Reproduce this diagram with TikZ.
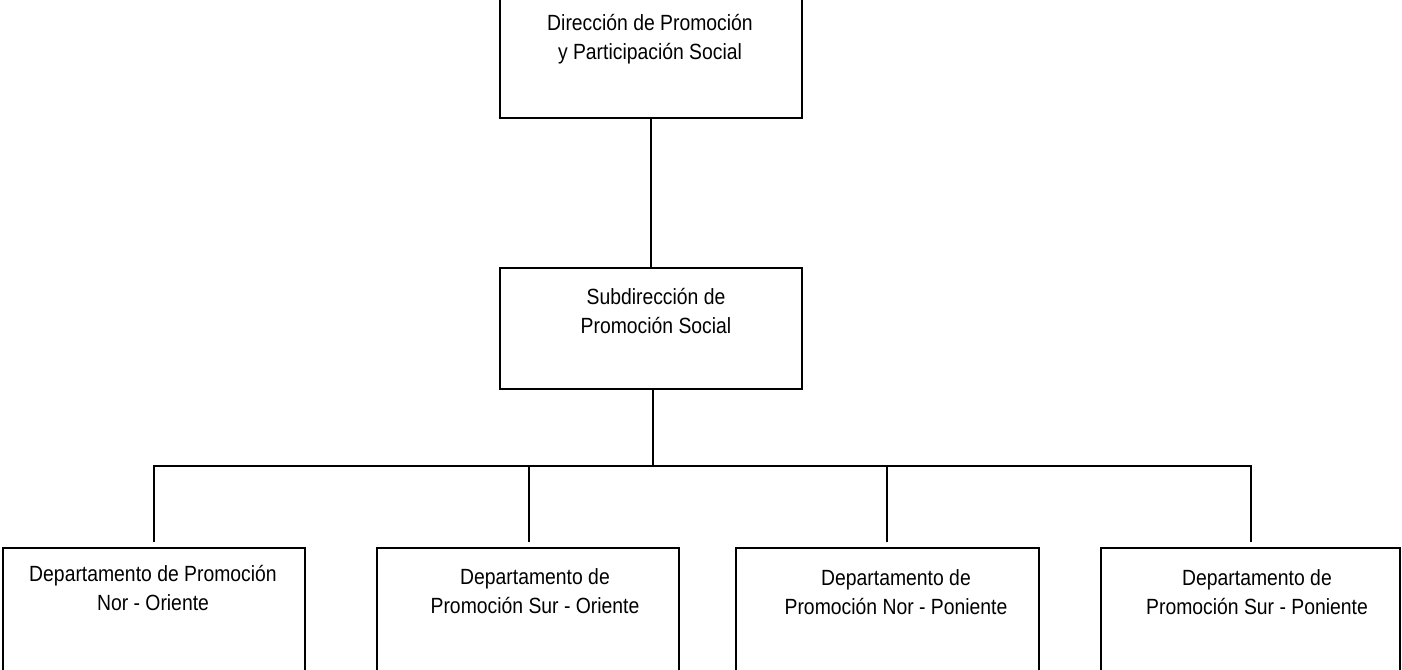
\documentclass[tikz,border=0pt]{standalone}
\usepackage{fontspec}
\setmainfont{Liberation Sans}[FakeStretch=0.88]
\begin{document}
\begin{tikzpicture}[x=1pt,y=-1pt,
  box/.style={draw=black,line width=2pt,inner sep=0pt,outer sep=0pt,minimum height=121pt},
  txt/.style={align=center,inner sep=0pt,font=\fontsize{22}{29}\selectfont},
  conn/.style={draw=black,line width=2pt}]
\useasboundingbox (0,0) rectangle (1402,669);
% boxes
\node[box,minimum width=302pt] (dir) at (651,57.5) {};
\node[box,minimum width=302pt] (sub) at (651,328.5) {};
\node[box,minimum width=302pt,minimum height=124pt] (d1) at (154,610) {};
\node[box,minimum width=302pt,minimum height=124pt] (d2) at (528,610) {};
\node[box,minimum width=303pt,minimum height=124pt] (d3) at (887.5,610) {};
\node[box,minimum width=299pt,minimum height=124pt] (d4) at (1250.5,610) {};
% texts
\node[txt] (tdir) at (650,39) {Dirección de Promoción\\y Participación Social};
\node[txt] (tsub) at (656,311) {Subdirección de\\Promoción Social};
\node[txt] (t1) at (153,588) {Departamento de Promoción\\Nor - Oriente};
\node[txt] (t2) at (535,591) {Departamento de\\Promoción Sur - Oriente};
\node[txt] (t3) at (896,592) {Departamento de\\Promoción Nor - Poniente};
\node[txt] (t4) at (1257,592) {Departamento de\\Promoción Sur - Poniente};
% connectors
\coordinate (bus) at (653,466);
\coordinate (busL) at (154,466);
\coordinate (busR) at (1251,466);
\draw[conn] (dir.south) -- (sub.north);
\draw[conn] ([xshift=2pt]sub.south) -- (bus);
\draw[conn] ([yshift=6pt]d1.north) -- (busL) -- (busR) -- ([yshift=6pt,xshift=0.5pt]d4.north);
\draw[conn] ([yshift=6pt,xshift=1pt]d2.north) -- ([xshift=1pt]d2.north |- bus);
\draw[conn] ([yshift=6pt,xshift=-0.5pt]d3.north) -- ([xshift=-0.5pt]d3.north |- bus);
\end{tikzpicture}
\end{document}
